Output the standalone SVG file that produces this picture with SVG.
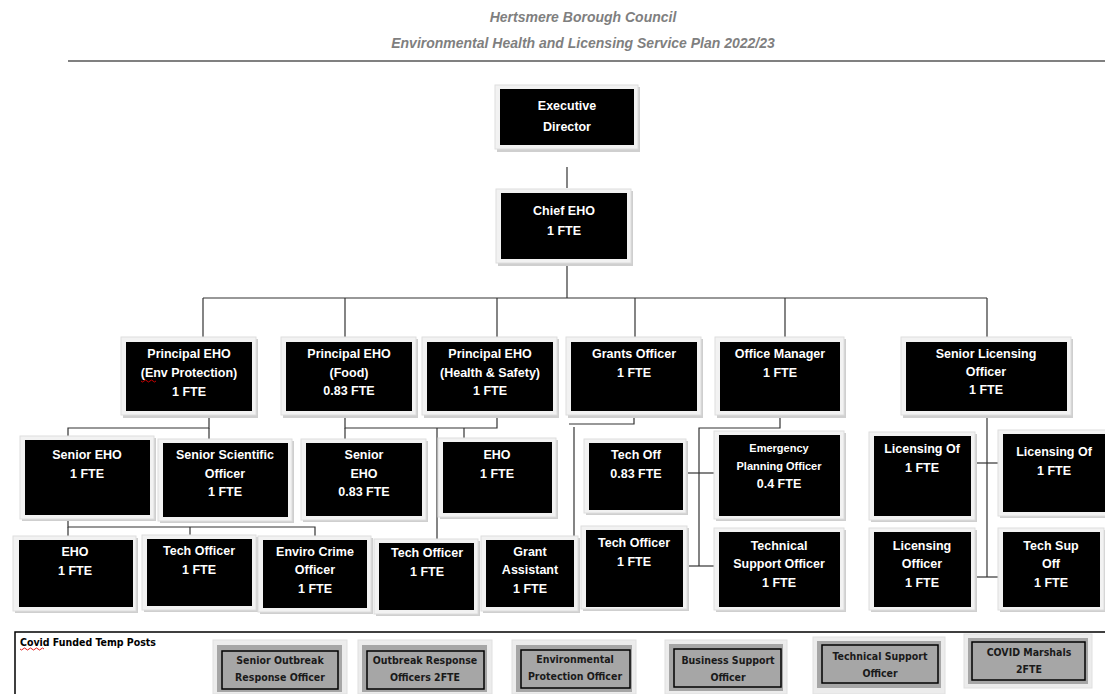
<svg xmlns="http://www.w3.org/2000/svg" width="1105" height="694" viewBox="0 0 1105 694">
<defs>
<style>
.fr{fill:#f2f2f2;stroke:#dedede;stroke-width:1}
.sh{fill:#cfcfcf}
.bx{fill:#000}
.t{font-family:"Liberation Sans Narrow","Liberation Sans",Arial,sans-serif;font-weight:bold;font-size:12.5px;fill:#fff;text-anchor:middle}
.hd{font-family:"Liberation Sans Narrow","Liberation Sans",Arial,sans-serif;font-weight:bold;font-style:italic;font-size:14px;fill:#7f7f7f;text-anchor:middle}
.cn line,.cn polyline{stroke:#333;stroke-width:1.2;fill:none}
.gfr{fill:#ececec;stroke:#e0e0e0}
.gfl{fill:#a6a6a6}
.gbx{fill:#a6a6a6;stroke:#000;stroke-width:1.5}
.gt{font-family:"DejaVu Sans Condensed","DejaVu Sans",sans-serif;font-weight:bold;font-size:10.5px;fill:#1a1a1a;text-anchor:middle}
.wv{fill:none;stroke:#d00;stroke-width:0.9}
</style>
</defs>
<rect width="1105" height="694" fill="#fff"/>
<g id="header">
<text class="hd" x="583" y="22">Hertsmere Borough Council</text>
<text class="hd" x="583" y="48">Environmental Health and Licensing Service Plan 2022/23</text>
<line x1="68" y1="61" x2="1105" y2="61" stroke="#808080" stroke-width="2"/>
</g>
<g id="connectors" class="cn">
<line x1="567" y1="167" x2="567" y2="188"/>
<line x1="567" y1="263" x2="567" y2="298"/>
<line x1="203" y1="298" x2="987" y2="298"/>
<line x1="203" y1="298" x2="203" y2="337"/>
<line x1="345" y1="298" x2="345" y2="337"/>
<line x1="497" y1="298" x2="497" y2="337"/>
<line x1="635" y1="298" x2="635" y2="337"/>
<line x1="785" y1="298" x2="785" y2="337"/>
<line x1="987" y1="298" x2="987" y2="337"/>
<polyline points="209,415 209,428 68,428 68,437"/>
<line x1="209" y1="428" x2="209" y2="440"/>
<polyline points="68,518 68,527 315,527 315,537"/>
<line x1="68" y1="527" x2="68" y2="537"/>
<line x1="190" y1="527" x2="190" y2="536"/>
<line x1="256" y1="545" x2="256" y2="604"/>
<polyline points="345,415 345,428 497,428 497,415"/>
<line x1="345" y1="428" x2="345" y2="440"/>
<line x1="437" y1="428" x2="437" y2="540"/>
<line x1="464" y1="428" x2="464" y2="439"/>
<polyline points="634,413 634,424 569,424"/>
<polyline points="574,427 574,538"/>
<polyline points="780,413 780,428 699,428 699,566"/>
<line x1="685" y1="473" x2="714" y2="473"/>
<line x1="686" y1="566" x2="716" y2="566"/>
<line x1="987" y1="413" x2="987" y2="577"/>
<line x1="973" y1="463" x2="1000" y2="463"/>
<line x1="973" y1="577" x2="1000" y2="577"/>
</g>
<g id="n-exec">
<rect class="sh" x="497" y="87" width="143" height="65"/>
<rect class="fr" x="495" y="85" width="143" height="64"/>
<rect class="bx" x="500" y="89" width="134" height="56"/>
<text class="t" x="567" y="110">Executive</text>
<text class="t" x="567" y="131">Director</text>
</g>
<g id="n-chief">
<rect class="sh" x="498" y="191" width="135" height="75"/>
<rect class="fr" x="496" y="189" width="135" height="74"/>
<rect class="bx" x="501" y="193" width="126" height="66"/>
<text class="t" x="564" y="215">Chief EHO</text>
<text class="t" x="564" y="235">1 FTE</text>
</g>
<g id="n-penv">
<rect class="sh" x="123" y="339" width="135" height="79"/>
<rect class="fr" x="121" y="337" width="135" height="78"/>
<rect class="bx" x="126" y="342" width="126" height="69"/>
<text class="t" x="189" y="358">Principal EHO</text>
<text class="t" x="189" y="377">(Env Protection)</text>
<text class="t" x="189" y="396">1 FTE</text>
<path class="wv" d="M141,381 q1.5,2 3,0 t3,0 t3,0 t3,0 t3,0"/>
</g>
<g id="n-pfood">
<rect class="sh" x="283" y="339" width="135" height="79"/>
<rect class="fr" x="281" y="337" width="135" height="78"/>
<rect class="bx" x="286" y="342" width="126" height="69"/>
<text class="t" x="349" y="358">Principal EHO</text>
<text class="t" x="349" y="377">(Food)</text>
<text class="t" x="349" y="395">0.83 FTE</text>
</g>
<g id="n-phs">
<rect class="sh" x="424" y="339" width="135" height="79"/>
<rect class="fr" x="422" y="337" width="135" height="78"/>
<rect class="bx" x="427" y="342" width="126" height="69"/>
<text class="t" x="490" y="358">Principal EHO</text>
<text class="t" x="490" y="377">(Health &amp; Safety)</text>
<text class="t" x="490" y="395">1 FTE</text>
</g>
<g id="n-grants">
<rect class="sh" x="568" y="339" width="135" height="79"/>
<rect class="fr" x="566" y="337" width="135" height="78"/>
<rect class="bx" x="571" y="342" width="126" height="69"/>
<text class="t" x="634" y="358">Grants Officer</text>
<text class="t" x="634" y="377">1 FTE</text>
</g>
<g id="n-office">
<rect class="sh" x="717" y="339" width="129" height="79"/>
<rect class="fr" x="715" y="337" width="129" height="78"/>
<rect class="bx" x="720" y="342" width="120" height="69"/>
<text class="t" x="780" y="358">Office Manager</text>
<text class="t" x="780" y="377">1 FTE</text>
</g>
<g id="n-seniorlic">
<rect class="sh" x="903" y="339" width="170" height="79"/>
<rect class="fr" x="901" y="337" width="170" height="78"/>
<rect class="bx" x="906" y="342" width="161" height="69"/>
<text class="t" x="986" y="358">Senior Licensing</text>
<text class="t" x="986" y="376">Officer</text>
<text class="t" x="986" y="394">1 FTE</text>
</g>
<g id="n-seho">
<rect class="sh" x="22" y="438" width="134" height="83"/>
<rect class="fr" x="20" y="436" width="134" height="83"/>
<rect class="bx" x="25" y="440" width="125" height="75"/>
<text class="t" x="87" y="459">Senior EHO</text>
<text class="t" x="87" y="478">1 FTE</text>
</g>
<g id="n-ssci">
<rect class="sh" x="160" y="441" width="134" height="82"/>
<rect class="fr" x="158" y="439" width="134" height="82"/>
<rect class="bx" x="163" y="443" width="125" height="74"/>
<text class="t" x="225" y="459">Senior Scientific</text>
<text class="t" x="225" y="478">Officer</text>
<text class="t" x="225" y="496">1 FTE</text>
</g>
<g id="n-sehofood">
<rect class="sh" x="303" y="441" width="125" height="81"/>
<rect class="fr" x="301" y="439" width="125" height="81"/>
<rect class="bx" x="306" y="443" width="116" height="73"/>
<text class="t" x="364" y="459">Senior</text>
<text class="t" x="364" y="478">EHO</text>
<text class="t" x="364" y="496">0.83 FTE</text>
</g>
<g id="n-ehohs">
<rect class="sh" x="440" y="440" width="118" height="79"/>
<rect class="fr" x="438" y="438" width="118" height="79"/>
<rect class="bx" x="443" y="442" width="109" height="71"/>
<text class="t" x="497" y="459">EHO</text>
<text class="t" x="497" y="478">1 FTE</text>
</g>
<g id="n-eho1">
<rect class="sh" x="15" y="538" width="123" height="75"/>
<rect class="fr" x="13" y="536" width="123" height="75"/>
<rect class="bx" x="19" y="540" width="114" height="67"/>
<text class="t" x="75" y="556">EHO</text>
<text class="t" x="75" y="575">1 FTE</text>
</g>
<g id="n-tech1">
<rect class="sh" x="144" y="537" width="114" height="75"/>
<rect class="fr" x="142" y="535" width="114" height="75"/>
<rect class="bx" x="147" y="539" width="105" height="67"/>
<text class="t" x="199" y="555">Tech Officer</text>
<text class="t" x="199" y="574">1 FTE</text>
</g>
<g id="n-enviro">
<rect class="sh" x="260" y="538" width="113" height="76"/>
<rect class="fr" x="258" y="536" width="113" height="76"/>
<rect class="bx" x="263" y="540" width="104" height="68"/>
<text class="t" x="315" y="556">Enviro Crime</text>
<text class="t" x="315" y="574">Officer</text>
<text class="t" x="315" y="593">1 FTE</text>
</g>
<g id="n-tech2">
<rect class="sh" x="376" y="541" width="104" height="75"/>
<rect class="fr" x="374" y="539" width="104" height="75"/>
<rect class="bx" x="379" y="543" width="95" height="67"/>
<text class="t" x="427" y="557">Tech Officer</text>
<text class="t" x="427" y="576">1 FTE</text>
</g>
<g id="n-grantasst">
<rect class="sh" x="483" y="538" width="97" height="75"/>
<rect class="fr" x="481" y="536" width="97" height="75"/>
<rect class="bx" x="486" y="540" width="88" height="67"/>
<text class="t" x="530" y="556">Grant</text>
<text class="t" x="530" y="574">Assistant</text>
<text class="t" x="530" y="593">1 FTE</text>
</g>
<g id="n-techoff">
<rect class="sh" x="586" y="441" width="102" height="74"/>
<rect class="fr" x="584" y="439" width="102" height="74"/>
<rect class="bx" x="589" y="443" width="94" height="67"/>
<text class="t" x="636" y="459">Tech Off</text>
<text class="t" x="636" y="478">0.83 FTE</text>
</g>
<g id="n-emerg">
<rect class="sh" x="716" y="433" width="130" height="88"/>
<rect class="fr" x="714" y="431" width="130" height="88"/>
<rect class="bx" x="719" y="435" width="121" height="81"/>
<text class="t" x="779" y="452" style="font-size:11px">Emergency</text>
<text class="t" x="779" y="470" style="font-size:11px">Planning Officer</text>
<text class="t" x="779" y="488">0.4 FTE</text>
</g>
<g id="n-techoffr">
<rect class="sh" x="583" y="528" width="106" height="83"/>
<rect class="fr" x="581" y="526" width="106" height="83"/>
<rect class="bx" x="586" y="530" width="97" height="77"/>
<text class="t" x="634" y="547">Tech Officer</text>
<text class="t" x="634" y="566">1 FTE</text>
</g>
<g id="n-techsupp">
<rect class="sh" x="716" y="530" width="130" height="82"/>
<rect class="fr" x="714" y="528" width="130" height="82"/>
<rect class="bx" x="719" y="532" width="121" height="75"/>
<text class="t" x="779" y="550">Technical</text>
<text class="t" x="779" y="568">Support Officer</text>
<text class="t" x="779" y="587">1 FTE</text>
</g>
<g id="n-licof1">
<rect class="sh" x="871" y="434" width="106" height="88"/>
<rect class="fr" x="869" y="432" width="106" height="88"/>
<rect class="bx" x="874" y="436" width="97" height="80"/>
<text class="t" x="922" y="453">Licensing Of</text>
<text class="t" x="922" y="472">1 FTE</text>
</g>
<g id="n-licof2">
<rect class="sh" x="1000" y="432" width="108" height="86"/>
<rect class="fr" x="998" y="430" width="108" height="86"/>
<rect class="bx" x="1003" y="434" width="102" height="78"/>
<text class="t" x="1054" y="456">Licensing Of</text>
<text class="t" x="1054" y="475">1 FTE</text>
</g>
<g id="n-licofficer">
<rect class="sh" x="871" y="530" width="106" height="82"/>
<rect class="fr" x="869" y="528" width="106" height="82"/>
<rect class="bx" x="874" y="532" width="97" height="75"/>
<text class="t" x="922" y="550">Licensing</text>
<text class="t" x="922" y="568">Officer</text>
<text class="t" x="922" y="587">1 FTE</text>
</g>
<g id="n-techsupoff">
<rect class="sh" x="1000" y="530" width="106" height="82"/>
<rect class="fr" x="998" y="528" width="106" height="82"/>
<rect class="bx" x="1003" y="532" width="97" height="75"/>
<text class="t" x="1051" y="550">Tech Sup</text>
<text class="t" x="1051" y="568">Off</text>
<text class="t" x="1051" y="587">1 FTE</text>
</g>
<g id="covid">
<polyline points="15,694 15,632 1105,632" fill="none" stroke="#000" stroke-width="1.5"/>
<text x="20" y="646" style="font-family:'DejaVu Sans Condensed','DejaVu Sans',sans-serif;font-weight:bold;font-size:10.5px;fill:#000">Covid Funded Temp Posts</text>
<path class="wv" d="M20,649 q1.5,2 3,0 t3,0 t3,0 t3,0 t3,0 t3,0 t3,0 t3,0"/>
</g>
<g id="c-senior">
<rect class="gfr" x="213" y="640" width="134" height="54"/>
<rect class="gfl" x="217" y="645" width="125" height="47"/>
<rect class="gbx" x="222" y="651" width="116" height="38"/>
<text class="gt" x="280" y="664">Senior Outbreak</text>
<text class="gt" x="280" y="681">Response Officer</text>
</g>
<g id="c-outbreak">
<rect class="gfr" x="358" y="640" width="134" height="54"/>
<rect class="gfl" x="362" y="645" width="125" height="47"/>
<rect class="gbx" x="367" y="651" width="117" height="38"/>
<text class="gt" x="425" y="664">Outbreak Response</text>
<text class="gt" x="425" y="681">Officers 2FTE</text>
</g>
<g id="c-envprot">
<rect class="gfr" x="512" y="640" width="124" height="54"/>
<rect class="gfl" x="516" y="645" width="116" height="47"/>
<rect class="gbx" x="521" y="650" width="109" height="38"/>
<text class="gt" x="575" y="663">Environmental</text>
<text class="gt" x="575" y="680">Protection Officer</text>
</g>
<g id="c-business">
<rect class="gfr" x="665" y="640" width="122" height="54"/>
<rect class="gfl" x="669" y="644" width="114" height="47"/>
<rect class="gbx" x="674" y="649" width="107" height="38"/>
<text class="gt" x="728" y="664">Business Support</text>
<text class="gt" x="728" y="681">Officer</text>
</g>
<g id="c-techsupport">
<rect class="gfr" x="813" y="637" width="132" height="57"/>
<rect class="gfl" x="817" y="641" width="124" height="47"/>
<rect class="gbx" x="822" y="645" width="116" height="38"/>
<text class="gt" x="880" y="660">Technical Support</text>
<text class="gt" x="880" y="677">Officer</text>
</g>
<g id="c-marshals">
<rect class="gfr" x="964" y="634" width="128" height="54"/>
<rect class="gfl" x="968" y="638" width="120" height="46"/>
<rect class="gbx" x="972" y="642" width="113" height="38"/>
<text class="gt" x="1029" y="656">COVID Marshals</text>
<text class="gt" x="1029" y="673">2FTE</text>
</g>
</svg>
